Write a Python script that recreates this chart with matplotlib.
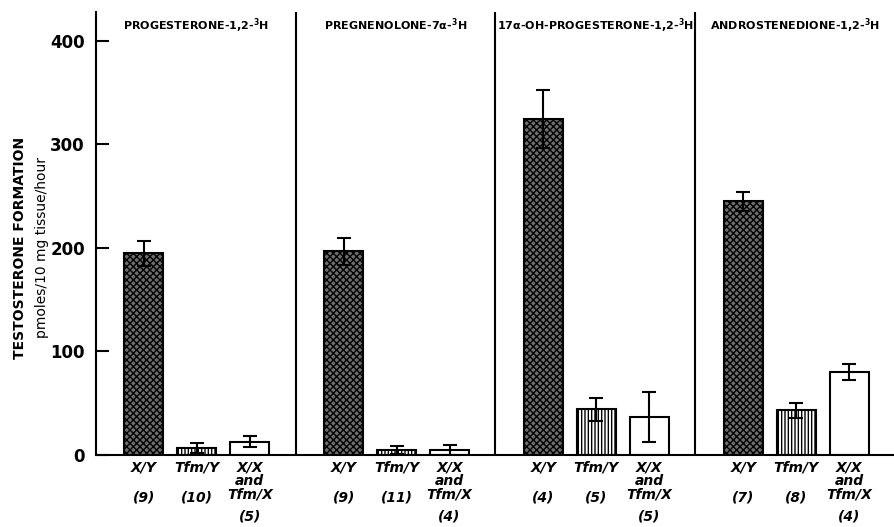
import matplotlib
matplotlib.use("Agg")
import matplotlib.pyplot as plt
import numpy as np

plt.rcParams['hatch.linewidth'] = 1.0

panels = ["PROGESTERONE-1,2-$^{\\mathbf{3}}$H",
          "PREGNENOLONE-7α-$^{\\mathbf{3}}$H",
          "17α-OH-PROGESTERONE-1,2-$^{\\mathbf{3}}$H",
          "ANDROSTENEDIONE-1,2-$^{\\mathbf{3}}$H"]
groups = ["X/Y", "Tfm/Y", "X/X\nand\nTfm/X"]
xy_vals = [195, 197, 325, 245]
xy_err = [12, 13, 28, 9]
tfm_vals = [7, 5, 44, 43]
tfm_err = [5, 4, 11, 7]
xx_vals = [13, 5, 37, 80]
xx_err = [5, 5, 24, 8]
xy_n = ["(9)", "(9)", "(4)", "(7)"]
tfm_n = ["(10)", "(11)", "(5)", "(8)"]
xx_n = ["(5)", "(4)", "(5)", "(4)"]
yticks = [0, 100, 200, 300, 400]

fig = plt.figure(figsize=(8.95, 5.27), dpi=100)
ax = fig.add_axes([96/895, 1-455/527, 1-96/895, (455-12)/527])
ax.set_xlim(0, 4)
ax.set_ylim(0, 428)

offsets = [0.24, 0.505, 0.77]
width = 0.195
series = [(xy_vals, xy_err, dict(facecolor="#6e6e6e", hatch="xxxxx", edgecolor="black")),
          (tfm_vals, tfm_err, dict(facecolor="white", hatch="|||||", edgecolor="black")),
          (xx_vals, xx_err, dict(facecolor="white", edgecolor="black"))]

for s, (vals, errs, style) in enumerate(series):
    xs = np.arange(4) + offsets[s]
    ax.bar(xs, vals, width=width, linewidth=1.5, **style, zorder=2)
    ax.errorbar(xs, vals, yerr=errs, fmt="none", ecolor="black",
                elinewidth=1.5, capsize=5, capthick=1.5, zorder=3)

for i in range(1, 4):
    ax.axvline(i, color="black", lw=1.5, zorder=1)

for i, t in enumerate(panels):
    ax.text(i + 0.5, 424, t, fontsize=8, fontweight="bold",
            ha="center", va="top", family="DejaVu Sans")

trans = ax.get_xaxis_transform()
lab = dict(transform=trans, ha="center", va="top", fontsize=10,
           style="italic", fontweight="bold")
for i in range(4):
    ax.text(i + offsets[0], -0.013, groups[0], **lab)
    ax.text(i + offsets[1], -0.013, groups[1], **lab)
    ax.text(i + offsets[2], -0.013, groups[2], linespacing=0.95, **lab)
    ax.text(i + offsets[0], -0.080, xy_n[i], **lab)
    ax.text(i + offsets[1], -0.080, tfm_n[i], **lab)
    ax.text(i + offsets[2], -0.124, xx_n[i], **lab)

ax.set_xticks([])
ax.set_yticks(yticks)
ax.set_yticklabels([str(v) for v in yticks], fontsize=12, fontweight="bold")
ax.tick_params(axis="y", direction="in", length=9, width=1.5, pad=8)
for sp in ["top", "right"]:
    ax.spines[sp].set_visible(False)
for sp in ["left", "bottom"]:
    ax.spines[sp].set_linewidth(1.5)

fig.text(20/895, 1-248/527, "TESTOSTERONE FORMATION", rotation=90, ha="center",
         va="center", fontsize=10, fontweight="bold")
fig.text(42/895, 1-248/527, "pmoles/10 mg tissue/hour", rotation=90, ha="center",
         va="center", fontsize=10)

fig.savefig("out.png", dpi=100)
